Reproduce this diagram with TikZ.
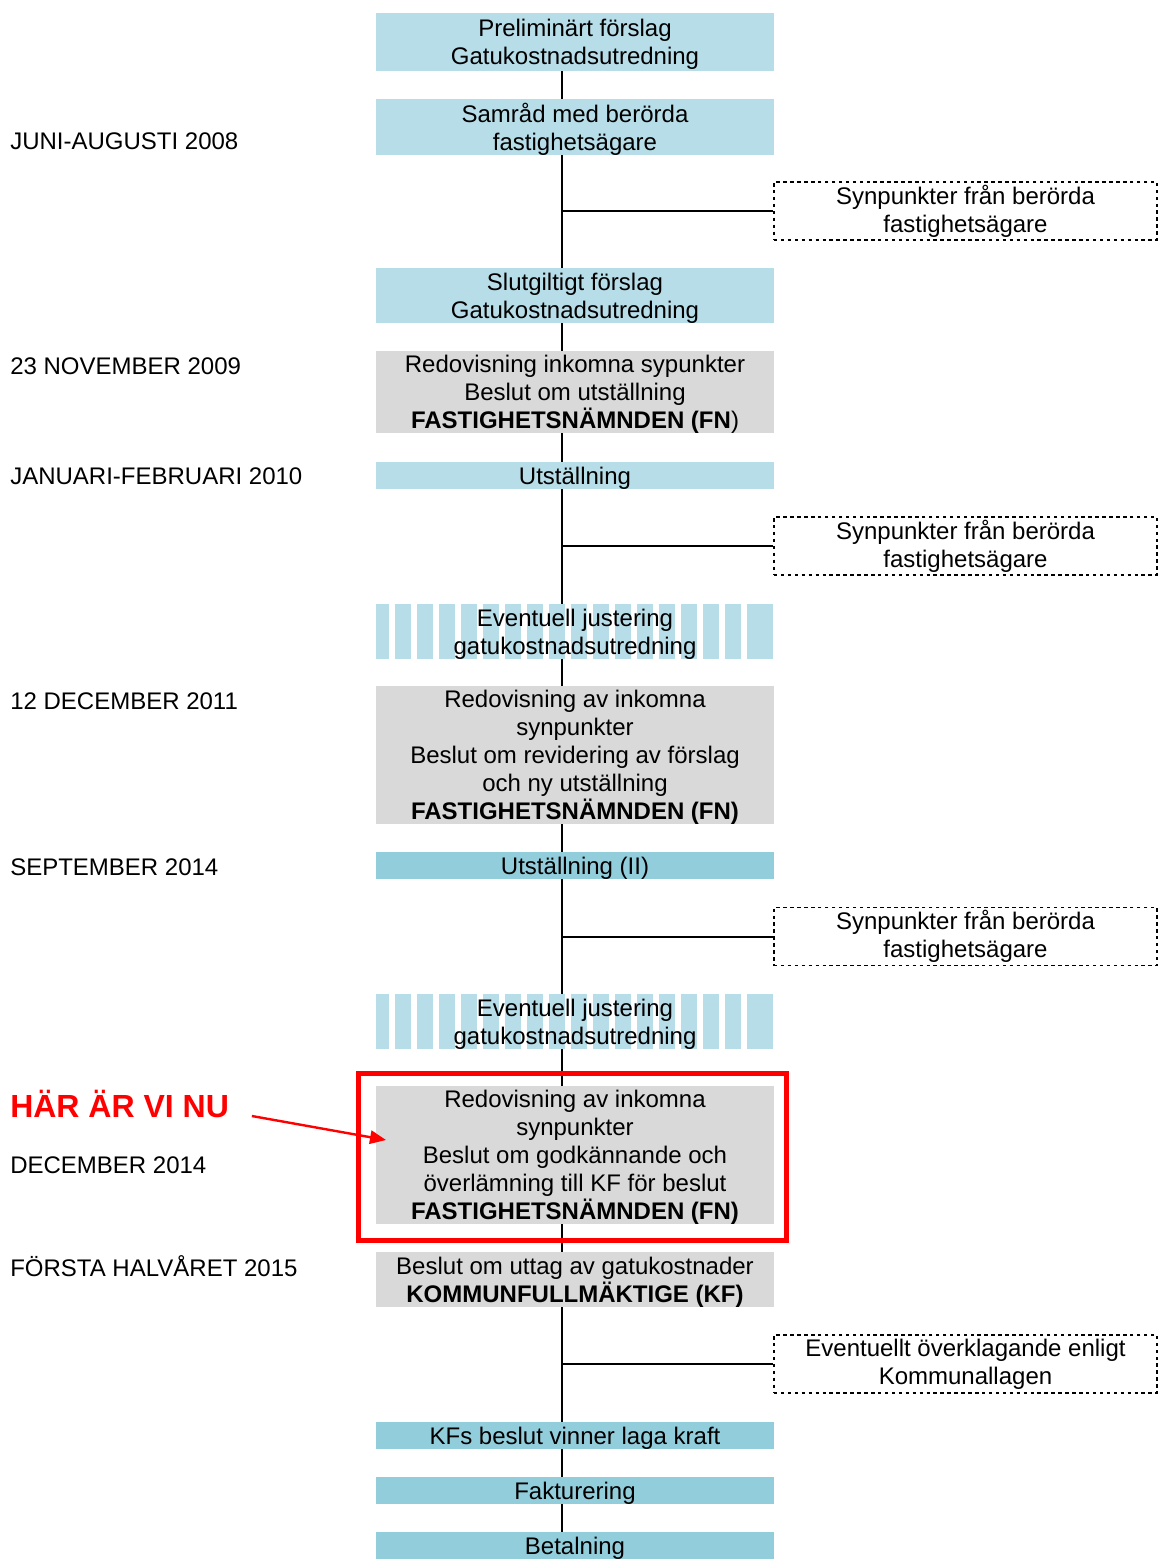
\documentclass[tikz,border=0pt]{standalone}
\usepackage{fontspec}
\setmainfont{Liberation Sans}
\usetikzlibrary{arrows.meta,backgrounds}
\definecolor{ljusbla}{HTML}{B7DDE8}
\definecolor{morkbla}{HTML}{92CDDC}
\definecolor{grabox}{HTML}{D9D9D9}
\definecolor{nurod}{HTML}{FF0000}

\begin{document}
\begin{tikzpicture}[
    x=0.75pt, y=-0.75pt,
    font=\fontsize{18}{21}\selectfont,
    steg/.style={minimum width=298.5pt, inner sep=0pt, align=center, text depth=0pt,
      execute at end node={\rule{0pt}{13.7pt}}},
    ljus/.style={steg, fill=ljusbla},
    mork/.style={steg, fill=morkbla},
    gra/.style={steg, fill=grabox},
    synbox/.style={draw, dash pattern=on 2.6pt off 2.6pt, line width=1.4pt,
      minimum width=287.25pt, minimum height=43.5pt, align=center, inner sep=0pt},
    datum/.style={anchor=west, inner sep=0pt},
    linje/.style={line width=1.5pt},
    nuram/.style={draw=nurod, line width=3.75pt, minimum width=321pt, minimum height=125.25pt},
    nupil/.style={-{Triangle[length=12pt,width=10pt]}, draw=nurod, line width=1.8pt}
  ]
  \useasboundingbox (0,0) rectangle (1160,1562);

  % randiga rutor (eventuell justering)
  \foreach \ty in {604,994} {
    \fill[ljusbla] (376,\ty) rectangle (389,\ty+55);
    \foreach \sx in {395,417,...,725}
      \fill[ljusbla] (\sx,\ty) rectangle (\sx+16,\ty+55);
    \fill[ljusbla] (747,\ty) rectangle (773,\ty+55);
  }

  % huvudkedjan
  \node[ljus, minimum height=43.5pt] (prel) at (575,42) {Preliminärt förslag\\Gatukostnadsutredning};
  \node[ljus, minimum height=42pt] (samrad) at (575,127) {Samråd med berörda\\fastighetsägare};
  \node[ljus, minimum height=41.25pt] (slut) at (575,295.5) {Slutgiltigt förslag\\Gatukostnadsutredning};
  \node[gra, minimum height=61.5pt] (fn1) at (575,392) {Redovisning inkomna sypunkter\\Beslut om utställning\\\textbf{FASTIGHETSNÄMNDEN (FN})};
  \node[ljus, minimum height=20.25pt] (utst1) at (575,475.5) {Utställning};
  \node[steg, minimum height=41.25pt] (just1) at (575,631.5) {Eventuell justering\\gatukostnadsutredning};
  \node[gra, minimum height=103.5pt] (fn2) at (575,755) {Redovisning av inkomna\\synpunkter\\Beslut om revidering av förslag\\och ny utställning\\\textbf{FASTIGHETSNÄMNDEN (FN)}};
  \node[mork, minimum height=20.25pt] (utst2) at (575,865.5) {Utställning (II)};
  \node[steg, minimum height=41.25pt] (just2) at (575,1021.5) {Eventuell justering\\gatukostnadsutredning};
  \node[gra, minimum height=103.5pt] (fn3) at (575,1155) {Redovisning av inkomna\\synpunkter\\Beslut om godkännande och\\överlämning till KF för beslut\\\textbf{FASTIGHETSNÄMNDEN (FN)}};
  \node[gra, minimum height=41.25pt] (kf) at (575,1279.5) {Beslut om uttag av gatukostnader\\\textbf{KOMMUNFULLMÄKTIGE (KF)}};
  \node[mork, minimum height=20.25pt] (laga) at (575,1435.5) {KFs beslut vinner laga kraft};
  \node[mork, minimum height=20.25pt] (fakt) at (575,1490.5) {Fakturering};
  \node[mork, minimum height=20.25pt] (betal) at (575,1545.5) {Betalning};

  % sidorutor
  \foreach \n/\y in {syn1/211, syn2/546, syn3/936.5} {
    \node[synbox] (\n) at (965.5,\y) {Synpunkter från berörda\\fastighetsägare};
  }
  \node[synbox] (overkl) at (965.5,1364) {Eventuellt överklagande enligt\\Kommunallagen};

  % tidpunkter
  \foreach \n/\y/\t in {d08/141/JUNI-AUGUSTI 2008, d09/366/23 NOVEMBER 2009,
      d10/476/JANUARI-FEBRUARI 2010, d11/701/12 DECEMBER 2011, d14a/867/SEPTEMBER 2014,
      d14b/1165/DECEMBER 2014, d15/1266/FÖRSTA HALVÅRET 2015} {
    \node[datum] (\n) at (10,\y) {\t};
  }

  % här är vi nu
  \node[nuram] (nu) at (572.5,1157) {};
  \node[datum, text=nurod, font=\fontsize{24}{28}\selectfont\bfseries] (har) at (10,1104) {HÄR ÄR VI NU};
  \coordinate (pilmal) at (386,1140);
  \draw[nupil] ([xshift=17pt,yshift=-9pt]har.east) -- (pilmal);

  % linjer
  \coordinate (stam) at (562,0);
  \begin{scope}[on background layer]
    \draw[linje] (prel.south -| stam) -- (betal.north -| stam);
    \foreach \n in {syn1,syn2,syn3,overkl}
      \draw[linje] (\n.west -| stam) -- (\n.west);
  \end{scope}
\end{tikzpicture}
\end{document}
